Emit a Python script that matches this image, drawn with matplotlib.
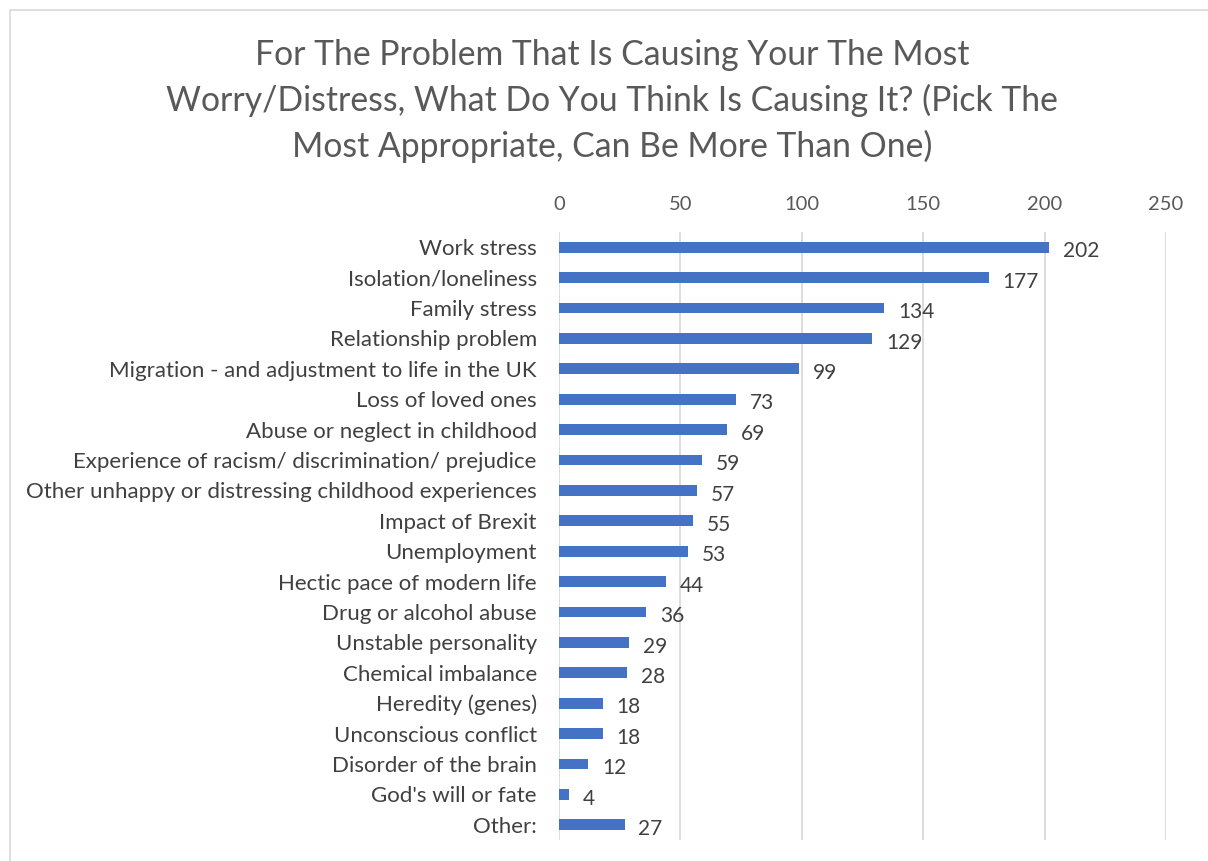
import numpy as np
import matplotlib.pyplot as plt
from matplotlib.patches import Rectangle

plt.rcParams['font.family'] = ['Lato', 'DejaVu Sans']

categories = ['Work stress', 'Isolation/loneliness', 'Family stress', 'Relationship problem',
              'Migration - and adjustment to life in the UK', 'Loss of loved ones',
              'Abuse or neglect in childhood', 'Experience of racism/ discrimination/ prejudice',
              'Other unhappy or distressing childhood experiences', 'Impact of Brexit',
              'Unemployment', 'Hectic pace of modern life', 'Drug or alcohol abuse',
              'Unstable personality', 'Chemical imbalance', 'Heredity (genes)',
              'Unconscious conflict', 'Disorder of the brain', "God's will or fate", 'Other:']
counts = [202, 177, 134, 129, 99, 73, 69, 59, 57, 55, 53, 44, 36, 29, 28, 18, 18, 12, 4, 27]
ticks = [0, 50, 100, 150, 200, 250]

title = ('For The Problem That Is Causing Your The Most\n'
         'Worry/Distress, What Do You Think Is Causing It? (Pick The\n'
         'Most Appropriate, Can Be More Than One)')

fig = plt.figure(figsize=(12.08, 8.61), dpi=100)
# chart border (cut off at right and bottom)
fig.patches.append(Rectangle((10/1208, -0.05), 1.1, 1 - 10/861 + 0.05, transform=fig.transFigure,
                             fill=False, edgecolor='#D9D9D9', linewidth=1.2))

ax = fig.add_axes([559/1208, 1 - 840/861, (1166 - 559)/1208, (840 - 232)/861])
y = np.arange(len(categories))
ax.barh(y, counts, height=0.36, color='#4472C4', zorder=3)
ax.set_ylim(len(categories) - 0.5, -0.5)
ax.set_xlim(0, 250)
ax.set_xticks(ticks)
ax.xaxis.tick_top()
ax.tick_params(axis='x', length=0, pad=14, labelsize=14.5, labelcolor='#595959')
ax.tick_params(axis='y', length=0, pad=16, labelsize=16, labelcolor='#404040')
ax.set_yticks(y)
ax.set_yticklabels(categories)
ax.grid(axis='x', color='#D9D9D9', linewidth=1.3, zorder=0)
for s in ax.spines.values():
    s.set_visible(False)

for yi, v in zip(y, counts):
    ax.annotate(str(v), (v, yi), xytext=(10, -3), textcoords='offset points',
                va='center', ha='left', fontsize=15, color='#404040')

fig.text(612/1208, 1 - 101/861, title, ha='center', va='center', fontsize=24.3,
         color='#595959', linespacing=1.49)

fig.savefig('out.png', dpi=100)
